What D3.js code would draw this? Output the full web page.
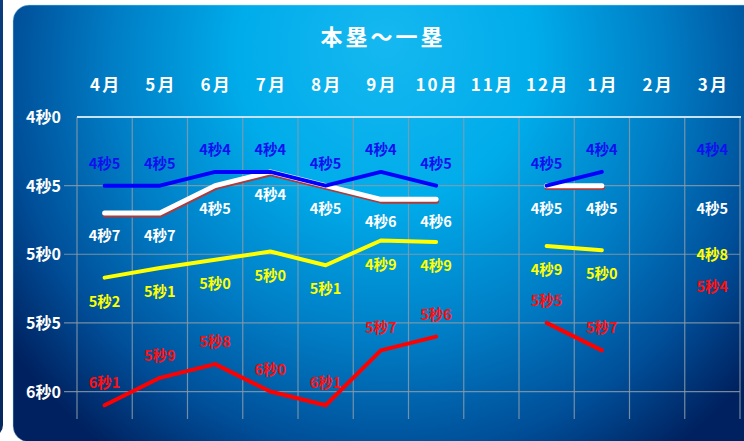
<!DOCTYPE html>
<html><head><meta charset="utf-8">
<script src="https://cdn.jsdelivr.net/npm/d3@7"></script>
<style>
html,body{margin:0;padding:0;background:#fff;}
svg{display:block;}
text{font-family:"Noto Sans CJK JP","Noto Sans",sans-serif;font-weight:bold;}
</style></head>
<body>
<svg id="chart" width="744" height="441"></svg>
<script>
// ---- data ----
const title = "本塁～一塁";
const months = ["4月","5月","6月","7月","8月","9月","10月","11月","12月","1月","2月","3月"];
const yTicks = [4.0, 4.5, 5.0, 5.5, 6.0];
const blueSeries   = [4.5, 4.5, 4.4, 4.4, 4.5, 4.4, 4.5, null, 4.5, 4.4, null, 4.4];
const whiteSeries  = [4.7, 4.7, 4.5, 4.4, 4.5, 4.6, 4.6, null, 4.5, 4.5, null, 4.5];
const yellowSeries = [5.17, 5.10, 5.04, 4.98, 5.08, 4.90, 4.91, null, 4.94, 4.97, null, 4.83];
const redSeries    = [6.10, 5.90, 5.80, 6.00, 6.10, 5.70, 5.60, null, 5.50, 5.70, null, 5.40];

const fmt = v => { const s = v.toFixed(1).split("."); return s[0] + "秒" + s[1]; };

const svg = d3.select("#chart");
const defs = svg.append("defs");

// background gradient
const g1 = defs.append("radialGradient").attr("id","bg")
  .attr("gradientUnits","userSpaceOnUse")
  .attr("cx",390).attr("cy",80).attr("r",465).attr("fx",385).attr("fy",40);
[[0,"#16b8f0"],[0.32,"#00acea"],[0.6,"#007cc4"],[0.82,"#004e98"],[1,"#00215f"]]
  .forEach(([o,c]) => g1.append("stop").attr("offset",o).attr("stop-color",c));

const g2 = defs.append("linearGradient").attr("id","strip").attr("x1",0).attr("y1",0).attr("x2",0).attr("y2",1);
g2.append("stop").attr("offset",0).attr("stop-color","#0a3d80");
g2.append("stop").attr("offset",1).attr("stop-color","#06265e");

// neighbouring card strip at far left
svg.append("rect").attr("x",-30).attr("y",-20).attr("width",33).attr("height",457).attr("rx",12).attr("fill","url(#strip)");

// card
svg.append("rect").attr("x",13).attr("y",5).attr("width",780).attr("height",437).attr("rx",16)
  .attr("fill","url(#bg)").attr("stroke","rgba(160,215,245,0.5)").attr("stroke-width",1);

// scales
const x = d3.scaleBand().domain(months).range([77, 740]);
const y = d3.scaleLinear().domain([4.0, 6.2]).range([117, 419]);
const cx = m => x(m) + x.bandwidth()/2;

// title
svg.append("text").attr("x",383).attr("y",45).attr("text-anchor","middle")
  .attr("fill","#fff").attr("font-size",22).attr("letter-spacing",3).text(title);

// month labels
svg.append("g").selectAll("text").data(months).join("text")
  .attr("x", d => cx(d) + 1).attr("y", 91).attr("text-anchor","middle")
  .attr("fill","#fff").attr("font-size",17).attr("letter-spacing",2).text(d => d);

// grid
const grid = svg.append("g");
grid.selectAll("line.v").data(months.concat(["__end"])).join("line").attr("class","v")
  .attr("x1", (d,i) => i < months.length ? x(d) : 740)
  .attr("x2", (d,i) => i < months.length ? x(d) : 740)
  .attr("y1", 117).attr("y2", 419)
  .attr("stroke","#8a9aa8").attr("stroke-opacity",0.85).attr("stroke-width",1.2);
grid.selectAll("line.h").data(yTicks.slice(1)).join("line").attr("class","h")
  .attr("x1",64).attr("x2",740).attr("y1", d => y(d)).attr("y2", d => y(d))
  .attr("stroke","#8a9aa8").attr("stroke-opacity",0.85).attr("stroke-width",1.2);
// top axis line
svg.append("line").attr("x1",77).attr("x2",741).attr("y1",y(4.0)).attr("y2",y(4.0))
  .attr("stroke","#c4e4f6").attr("stroke-width",2);

// y labels
svg.append("g").selectAll("text").data(yTicks).join("text")
  .attr("x",61).attr("y", d => y(d) + 6).attr("text-anchor","end")
  .attr("fill","#fff").attr("font-size",16).text(d => fmt(d));

// series
const series = [
  {vals: blueSeries,   color:"#0000ff", label:"#1010f0", dy:-22, width:4},
  {vals: whiteSeries,  color:"#ffffff", label:"#ffffff", dy:23,  width:5, shadow:"#b03a3a"},
  {vals: yellowSeries, color:"#ffff00", label:"#ffff00", dy:24,  width:4},
  {vals: redSeries,    color:"#ff0000", label:"#ff1010", dy:-22, width:4}
];
// split into runs of consecutive defined points (isolated points draw no line)
function runs(vals) {
  const out = []; let cur = [];
  vals.forEach((v,j) => {
    if (v == null) { if (cur.length) out.push(cur); cur = []; }
    else cur.push({m: months[j], v});
  });
  if (cur.length) out.push(cur);
  return out.filter(r => r.length > 1);
}
const line = d3.line().x(d => cx(d.m)).y(d => y(d.v));
const order = [2,3,1,0];
order.forEach(i => {
  const s = series[i];
  runs(s.vals).forEach(r => {
    if (s.shadow) {
      svg.append("path").datum(r).attr("d", line).attr("fill","none")
        .attr("stroke", s.shadow).attr("stroke-width", s.width).attr("stroke-linecap","round")
        .attr("stroke-linejoin","round").attr("transform","translate(0.5,1.8)");
    }
    svg.append("path").datum(r).attr("d", line).attr("fill","none")
      .attr("stroke", s.color).attr("stroke-width", s.width).attr("stroke-linecap","round")
      .attr("stroke-linejoin","round");
  });
});
series.forEach(s => {
  const pts = months.map((m,j) => ({m, v: s.vals[j]})).filter(d => d.v != null);
  svg.append("g").selectAll("text").data(pts).join("text")
    .attr("x", d => cx(d.m)).attr("y", d => y(d.v) + s.dy + 5).attr("text-anchor","middle")
    .attr("fill", s.label).attr("font-size",14.5).text(d => fmt(d.v));
});
</script>
</body></html>
